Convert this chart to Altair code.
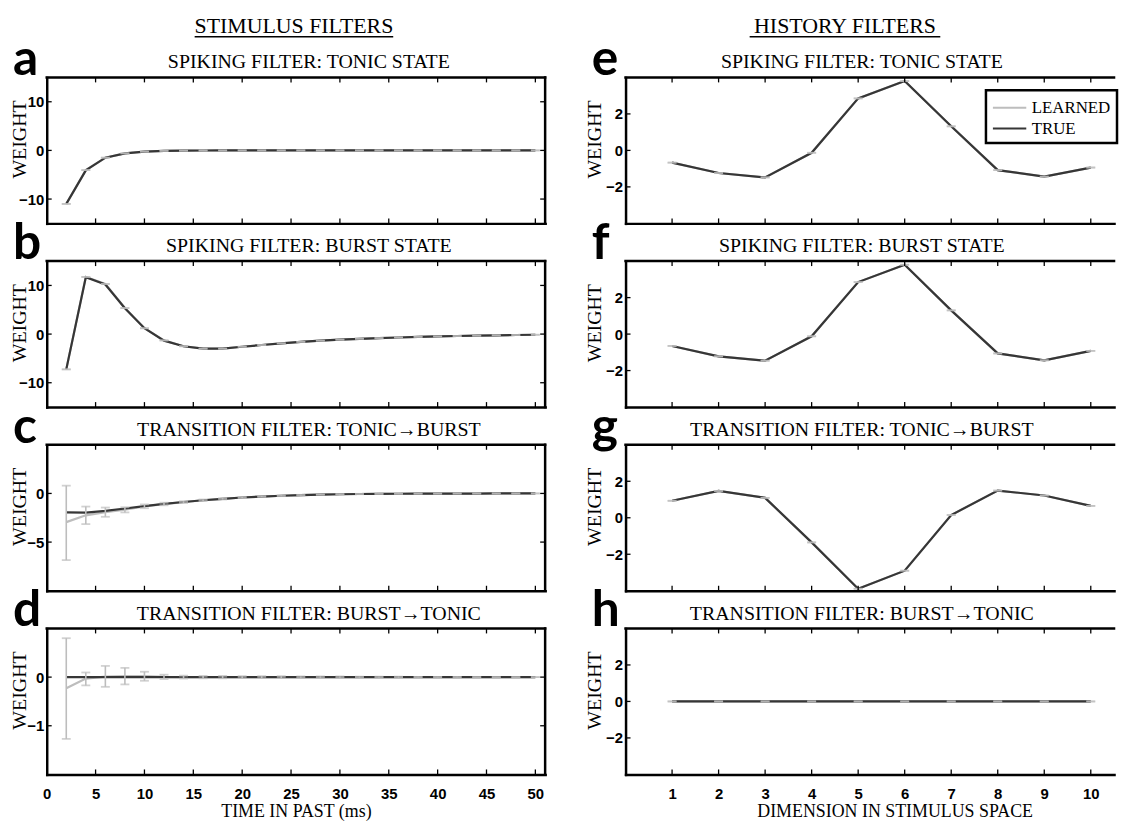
import altair as alt
import pandas as pd

# ---------------- data ----------------
stim_x = [2, 4, 6, 8, 10, 12, 14, 16, 18, 20, 22, 24, 26, 28, 30, 32, 34, 36, 38, 40, 42, 44, 46, 48, 50]
hist_x = [1, 2, 3, 4, 5, 6, 7, 8, 9, 10]
stim_ticks = [0, 5, 10, 15, 20, 25, 30, 35, 40, 45, 50]
hist_ticks = [1, 2, 3, 4, 5, 6, 7, 8, 9, 10]

a_true = [-11.0, -4.1, -1.5, -0.62, -0.26, -0.11, -0.05, -0.02, -0.01, 0, 0, 0, 0, 0, 0, 0, 0, 0, 0, 0, 0, 0, 0, 0, 0]
a_learned = [-11.0, -4.05, -1.5, -0.6, -0.25, -0.1, -0.05, -0.02, -0.01, 0, 0, 0, 0, 0, 0, 0, 0, 0, 0, 0, 0, 0, 0, 0, 0]

b_true = [-7.25, 11.7, 10.2, 5.3, 1.2, -1.35, -2.5, -3.0, -3.0, -2.6, -2.25, -1.9, -1.6, -1.35, -1.15, -0.97,
          -0.82, -0.7, -0.58, -0.48, -0.4, -0.32, -0.25, -0.19, -0.14]
b_learned = [-7.25, 11.75, 10.3, 5.35, 1.2, -1.3, -2.5, -3.0, -3.0, -2.6, -2.25, -1.9, -1.6, -1.35, -1.15, -0.97,
             -0.82, -0.7, -0.58, -0.48, -0.4, -0.32, -0.25, -0.19, -0.14]

c_true = [-1.95, -1.97, -1.8, -1.55, -1.3, -1.08, -0.88, -0.7, -0.55, -0.42, -0.32, -0.24, -0.17, -0.12, -0.08,
          -0.06, -0.04, -0.03, -0.02, -0.015, -0.01, -0.01, 0, 0, 0]
c_learned = [-2.95, -2.25, -1.92, -1.68, -1.33, -1.09, -0.89, -0.7, -0.55, -0.42, -0.32, -0.24, -0.17, -0.12, -0.08,
             -0.06, -0.04, -0.03, -0.02, -0.015, -0.01, -0.01, 0, 0, 0]
c_lo = [-6.85, -3.15, -2.4, -1.95, -1.52, -1.22, -0.98, -0.78, -0.62, -0.48, -0.37, -0.28, -0.2, -0.15, -0.1,
        -0.08, -0.06, -0.045, -0.035, -0.03, -0.025, -0.02, -0.015, -0.015, -0.01]
c_hi = [0.8, -1.35, -1.45, -1.42, -1.13, -0.95, -0.8, -0.62, -0.48, -0.36, -0.27, -0.2, -0.14, -0.09, -0.06,
        -0.04, -0.025, -0.015, -0.005, 0, 0.005, 0, 0.015, 0.015, 0.01]

d_true = [0, 0, 0, 0, 0, 0, 0, 0, 0, 0, 0, 0, 0, 0, 0, 0, 0, 0, 0, 0, 0, 0, 0, 0, 0]
d_learned = [-0.23, -0.03, 0.01, 0.02, 0.02, 0.005, 0, 0, 0, 0, 0, 0, 0, 0, 0, 0, 0, 0, 0, 0, 0, 0, 0, 0, 0]
d_lo = [-1.27, -0.17, -0.2, -0.15, -0.075, -0.04, -0.03, -0.025, -0.025, -0.02, -0.02, -0.02, -0.015, -0.015,
        -0.015, -0.01, -0.01, -0.01, -0.005, -0.005, -0.005, 0, 0, 0, 0]
d_hi = [0.8, 0.095, 0.23, 0.19, 0.11, 0.05, 0.03, 0.025, 0.025, 0.02, 0.02, 0.02, 0.015, 0.015,
        0.015, 0.01, 0.01, 0.01, 0.005, 0.005, 0.005, 0, 0, 0, 0]

e_true = [-0.67, -1.24, -1.48, -0.13, 2.85, 3.8, 1.32, -1.08, -1.44, -0.94]
e_learned = [-0.67, -1.24, -1.48, -0.13, 2.85, 3.8, 1.32, -1.08, -1.44, -0.94]
f_true = [-0.65, -1.22, -1.46, -0.12, 2.85, 3.8, 1.3, -1.06, -1.44, -0.92]
f_learned = [-0.65, -1.22, -1.46, -0.12, 2.85, 3.8, 1.3, -1.06, -1.44, -0.92]
g_true = [0.93, 1.47, 1.09, -1.35, -3.89, -2.9, 0.15, 1.49, 1.22, 0.65]
g_learned = [0.93, 1.47, 1.09, -1.35, -3.89, -2.9, 0.15, 1.49, 1.22, 0.65]
h_true = [0, 0, 0, 0, 0, 0, 0, 0, 0, 0]
h_learned = [0, 0, 0, 0, 0, 0, 0, 0, 0, 0]

series_names = ["Learned", "True"]
headers = ["STIMULUS FILTERS", "HISTORY FILTERS"]
panel_titles = ["SPIKING FILTER: TONIC STATE", "SPIKING FILTER: BURST STATE",
                "TRANSITION FILTER: TONIC\u2192BURST", "TRANSITION FILTER: BURST\u2192TONIC"]
x_titles = ["TIME IN PAST (ms)", "DIMENSION IN STIMULUS SPACE"]
y_title = "WEIGHT"

LIGHT = "#bdbdbd"
DARK = "#363636"
SERIF = "Liberation Serif"
SANS = "Liberation Sans"

panels = [
    dict(letter="a", col=0, row=0, true=a_true, learned=a_learned, lo=a_learned, hi=a_learned,
         ydom=[-15, 15], yticks=[-10, 0, 10]),
    dict(letter="e", col=1, row=0, true=e_true, learned=e_learned, lo=e_learned, hi=e_learned,
         ydom=[-4, 4], yticks=[-2, 0, 2]),
    dict(letter="b", col=0, row=1, true=b_true, learned=b_learned, lo=b_learned, hi=b_learned,
         ydom=[-15, 15], yticks=[-10, 0, 10]),
    dict(letter="f", col=1, row=1, true=f_true, learned=f_learned, lo=f_learned, hi=f_learned,
         ydom=[-4, 4], yticks=[-2, 0, 2]),
    dict(letter="c", col=0, row=2, true=c_true, learned=c_learned, lo=c_lo, hi=c_hi,
         ydom=[-10, 5], yticks=[-5, 0]),
    dict(letter="g", col=1, row=2, true=g_true, learned=g_learned, lo=g_learned, hi=g_learned,
         ydom=[-4, 4], yticks=[-2, 0, 2]),
    dict(letter="d", col=0, row=3, true=d_true, learned=d_learned, lo=d_lo, hi=d_hi,
         ydom=[-2, 1], yticks=[-1, 0]),
    dict(letter="h", col=1, row=3, true=h_true, learned=h_learned, lo=h_learned, hi=h_learned,
         ydom=[-4, 4], yticks=[-2, 0, 2]),
]

H = 147


def one_row(**kw):
    return pd.DataFrame({k: [v] for k, v in kw.items()})


def make_panel(p):
    left = p["col"] == 0
    W = 502 if left else 492
    xs = stim_x if left else hist_x
    xticks = stim_ticks if left else hist_ticks
    xsc = alt.Scale(domain=[0, 51] if left else [0, 10.5], nice=False, zero=False)
    ysc = alt.Scale(domain=p["ydom"], nice=False, zero=False)
    n = len(xs)
    lines_df = pd.DataFrame({"x": xs + xs, "y": p["learned"] + p["true"],
                             "series": [series_names[0]] * n + [series_names[1]] * n})
    err_df = pd.DataFrame({"x": xs, "lo": p["lo"], "hi": p["hi"]})

    if p["row"] == 3:
        xaxis = alt.Axis(values=xticks, labels=True, title=x_titles[p["col"]],
                         titleX=251 if left else 271, labelPadding=12, titlePadding=1)
    else:
        xaxis = alt.Axis(values=xticks, labels=False, title=None)
    yaxis = alt.Axis(values=p["yticks"], title=y_title, titleX=-27 if left else -31, titleY=62,
                     titleAngle=270, titleBaseline="middle", titleAlign="center", labelPadding=3)

    if p["letter"] == "e":
        legend = alt.Legend(title=None, orient="none", legendX=363, legendY=13,
                            symbolType="M-1,0H2.2", symbolSize=441, symbolStrokeWidth=2,
                            labelFont=SERIF, labelFontSize=17, labelColor="black",
                            labelExpr="upper(datum.label)", strokeColor="black",
                            fillColor="white", padding=6, rowPadding=1, labelOffset=17, cornerRadius=0)
    else:
        legend = None

    X = lambda f: alt.X(f, scale=xsc, axis=xaxis)
    Y = lambda f: alt.Y(f, scale=ysc, axis=yaxis)

    lines = alt.Chart(lines_df).mark_line(strokeWidth=2.2).encode(
        x=X("x:Q"), y=Y("y:Q"),
        color=alt.Color("series:N", scale=alt.Scale(domain=series_names, range=[LIGHT, DARK]), legend=legend),
    )
    stem = alt.Chart(err_df).mark_rule(color=LIGHT, strokeWidth=1.6).encode(
        x=X("x:Q"), y=Y("lo:Q"), y2="hi:Q")
    cap_lo = alt.Chart(err_df).mark_tick(orient="horizontal", size=9, thickness=1.8, color=LIGHT).encode(
        x=X("x:Q"), y=Y("lo:Q"))
    cap_hi = alt.Chart(err_df).mark_tick(orient="horizontal", size=9, thickness=1.8, color=LIGHT).encode(
        x=X("x:Q"), y=Y("hi:Q"))

    xt_df = pd.DataFrame({"x": xticks})
    yt_df = pd.DataFrame({"y": p["yticks"]})
    tick_top = alt.Chart(xt_df).mark_rule(color="black", strokeWidth=1.3).encode(
        x=X("x:Q"), y=alt.value(0), y2=alt.value(5))
    tick_bot = alt.Chart(xt_df).mark_rule(color="black", strokeWidth=1.3).encode(
        x=X("x:Q"), y=alt.value(H), y2=alt.value(H - 5))
    tick_left = alt.Chart(yt_df).mark_rule(color="black", strokeWidth=1.3).encode(
        y=Y("y:Q"), x=alt.value(0), x2=alt.value(5))
    border_top = alt.Chart(one_row(k=0)).mark_rule(color="black", strokeWidth=2.5, strokeCap="square").encode(
        x=alt.value(0), x2=alt.value(W), y=alt.value(0))

    letter = alt.Chart(one_row(t=p["letter"])).mark_text(
        font="Lato", fontSize=50, fontWeight="bold", align="left", baseline="alphabetic", color="black"
    ).encode(text="t:N", x=alt.value(-34), y=alt.value(-2))
    ptitle = alt.Chart(one_row(t=panel_titles[p["row"]])).mark_text(
        font=SERIF, fontSize=20, align="center", baseline="alphabetic", color="black"
    ).encode(text="t:N", x=alt.value(264 if left else 238), y=alt.value(-9))

    layers = [lines, stem, cap_lo, cap_hi, tick_top, tick_bot, tick_left, border_top, letter, ptitle]
    if left:
        tick_right = alt.Chart(yt_df).mark_rule(color="black", strokeWidth=1.3).encode(
            y=Y("y:Q"), x=alt.value(W), x2=alt.value(W - 5))
        border_right = alt.Chart(one_row(k=0)).mark_rule(color="black", strokeWidth=2.5, strokeCap="square").encode(
            x=alt.value(W), y=alt.value(0), y2=alt.value(H))
        layers += [tick_right, border_right]
    if p["row"] == 0:
        hx = 249 if left else 221
        head = alt.Chart(one_row(t=headers[p["col"]])).mark_text(
            font=SERIF, fontSize=22, align="center", baseline="alphabetic", color="black"
        ).encode(text="t:N", x=alt.value(hx), y=alt.value(-45))
        half = 100 if left else 96
        uline = alt.Chart(one_row(k=0)).mark_rule(color="black", strokeWidth=1.5).encode(
            x=alt.value(hx - half), x2=alt.value(hx + half), y=alt.value(-41))
        layers += [head, uline]
    return alt.layer(*layers).properties(width=W, height=H)


charts = [make_panel(p) for p in panels]

chart = alt.concat(
    *charts, columns=2, spacing={"row": 38, "column": 81}
).properties(
    bounds="flush", padding={"left": 2, "top": 4, "right": 0, "bottom": 0}
).resolve_legend(
    color="independent"
).configure_view(
    strokeWidth=0
).configure_axis(
    grid=False, ticks=False, tickSize=0, domainColor="black", domainWidth=2.5, domainCap="square",
    labelFont=SANS, labelFontWeight="bold", labelFontSize=15, labelColor="black",
    labelFlush=False, labelOverlap=False,
    titleFont=SERIF, titleFontWeight="normal", titleFontSize=20, titleColor="black"
).configure_axisX(
    titleFontSize=18
).configure_legend(
    strokeWidth=2.5
)

chart.save("out.html", embed_options={"renderer": "svg", "actions": False})
